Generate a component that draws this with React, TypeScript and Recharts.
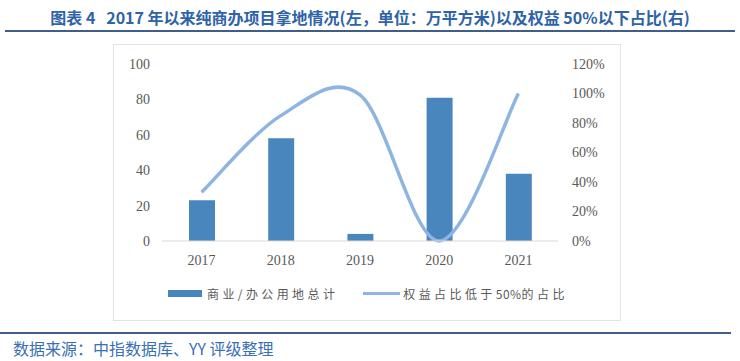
import React from 'react';
import { Bar, ComposedChart, Line, XAxis, YAxis } from 'recharts';

const years = ['2017', '2018', '2019', '2020', '2021'];
const landArea = [23, 58, 4, 81, 38];
const lowEquityShare = [0.33, 0.85, 0.99, 0, 1.0];
const leftTicks = [0, 20, 40, 60, 80, 100];
const rightTicks = [0, 0.2, 0.4, 0.6, 0.8, 1.0, 1.2];

const data = years.map((year, i) => ({
  year,
  area: landArea[i],
  share: lowEquityShare[i],
}));

// Excel-style smoothed line (Catmull-Rom through the points)
const excelCurve = (context: any) => {
  let pts: number[][] = [];
  return {
    areaStart() {},
    areaEnd() {},
    lineStart() {
      pts = [];
    },
    lineEnd() {
      const n = pts.length;
      if (!n) return;
      context.moveTo(pts[0][0], pts[0][1]);
      for (let i = 0; i < n - 1; i++) {
        const p0 = pts[Math.max(i - 1, 0)];
        const p1 = pts[i];
        const p2 = pts[i + 1];
        const p3 = pts[Math.min(i + 2, n - 1)];
        context.bezierCurveTo(
          p1[0] + (p2[0] - p0[0]) / 6,
          p1[1] + (p2[1] - p0[1]) / 6,
          p2[0] - (p3[0] - p1[0]) / 6,
          p2[1] - (p3[1] - p1[1]) / 6,
          p2[0],
          p2[1],
        );
      }
    },
    point(x: number, y: number) {
      pts.push([+x, +y]);
    },
  };
};

const tickStyle = { fill: '#595959', fontSize: 14, fontFamily: '"Liberation Serif", serif' };
const legendFont = { fontFamily: '"Noto Sans CJK SC", sans-serif', fontSize: 12, color: '#595959', letterSpacing: 3.4 };

const ChartLegend = () => (
  <div style={{ position: 'absolute', left: 168, top: 285, display: 'flex', alignItems: 'center', ...legendFont }}>
    <span style={{ display: 'inline-block', width: 34, height: 7, background: '#4A86BE', marginRight: 5 }} />
    <span>商业/办公用地总计</span>
    <span style={{ display: 'inline-block', width: 37, height: 3, background: '#8DB4E2', marginLeft: 25, marginRight: 3 }} />
    <span>
      权益占比低于<span style={{ letterSpacing: 0.5 }}>50%</span>的占比
    </span>
  </div>
);

export default function App() {
  return (
    <div style={{ position: 'fixed', left: 0, top: 0, width: 740, height: 361, background: '#fff', overflow: 'hidden' }}>
      <div
        style={{
          position: 'absolute',
          left: 0,
          width: 740,
          top: 5,
          textAlign: 'center',
          fontFamily: '"Noto Sans CJK SC", sans-serif',
          fontWeight: 'bold',
          fontSize: 16,
          color: '#2E63A8',
          whiteSpace: 'pre',
        }}
      >
        {'图表 4   2017 年以来纯商办项目拿地情况(左，单位：万平方米)以及权益 50%以下占比(右)'}
      </div>
      <div style={{ position: 'absolute', left: 5, width: 730, top: 30, height: 2, background: '#3F5F8A' }} />
      <div
        style={{
          position: 'absolute',
          left: 113,
          top: 44,
          width: 506,
          height: 275,
          border: '1px solid #E3E3E3',
        }}
      />
      <div style={{ position: 'absolute', left: 0, top: 0 }}>
        <ComposedChart width={740} height={361} data={data} margin={{ top: 64, bottom: 90, left: 112, right: 122 }}>
          <XAxis
            dataKey="year"
            axisLine={{ stroke: '#D9D9D9' }}
            tickLine={false}
            tick={tickStyle}
            tickMargin={8}
            height={30}
          />
          <YAxis
            yAxisId="left"
            domain={[0, 100]}
            ticks={leftTicks}
            axisLine={false}
            tickLine={false}
            tick={tickStyle}
            tickMargin={6}
            width={50}
          />
          <YAxis
            yAxisId="right"
            orientation="right"
            domain={[0, 1.2]}
            ticks={rightTicks}
            axisLine={false}
            tickLine={false}
            tick={{ ...tickStyle, textAnchor: 'start' }}
            tickMargin={8}
            width={60}
            tickFormatter={(v: number) => `${Math.round(v * 100)}%`}
          />
          <Bar yAxisId="left" dataKey="area" fill="#4A86BE" barSize={26} isAnimationActive={false} />
          <Line
            yAxisId="right"
            dataKey="share"
            type={excelCurve as any}
            stroke="#8DB4E2"
            strokeWidth={3.5}
            dot={false}
            activeDot={false}
            isAnimationActive={false}
          />
        </ComposedChart>
      </div>
      <ChartLegend />
      <div style={{ position: 'absolute', left: 0, width: 731, top: 332, height: 2, background: '#3F5F8A' }} />
      <div
        style={{
          position: 'absolute',
          left: 13,
          top: 336,
          fontFamily: '"Noto Sans CJK SC", sans-serif',
          fontSize: 16,
          color: '#3A6FB5',
          whiteSpace: 'pre',
        }}
      >
        数据来源：中指数据库、YY 评级整理
      </div>
    </div>
  );
}
